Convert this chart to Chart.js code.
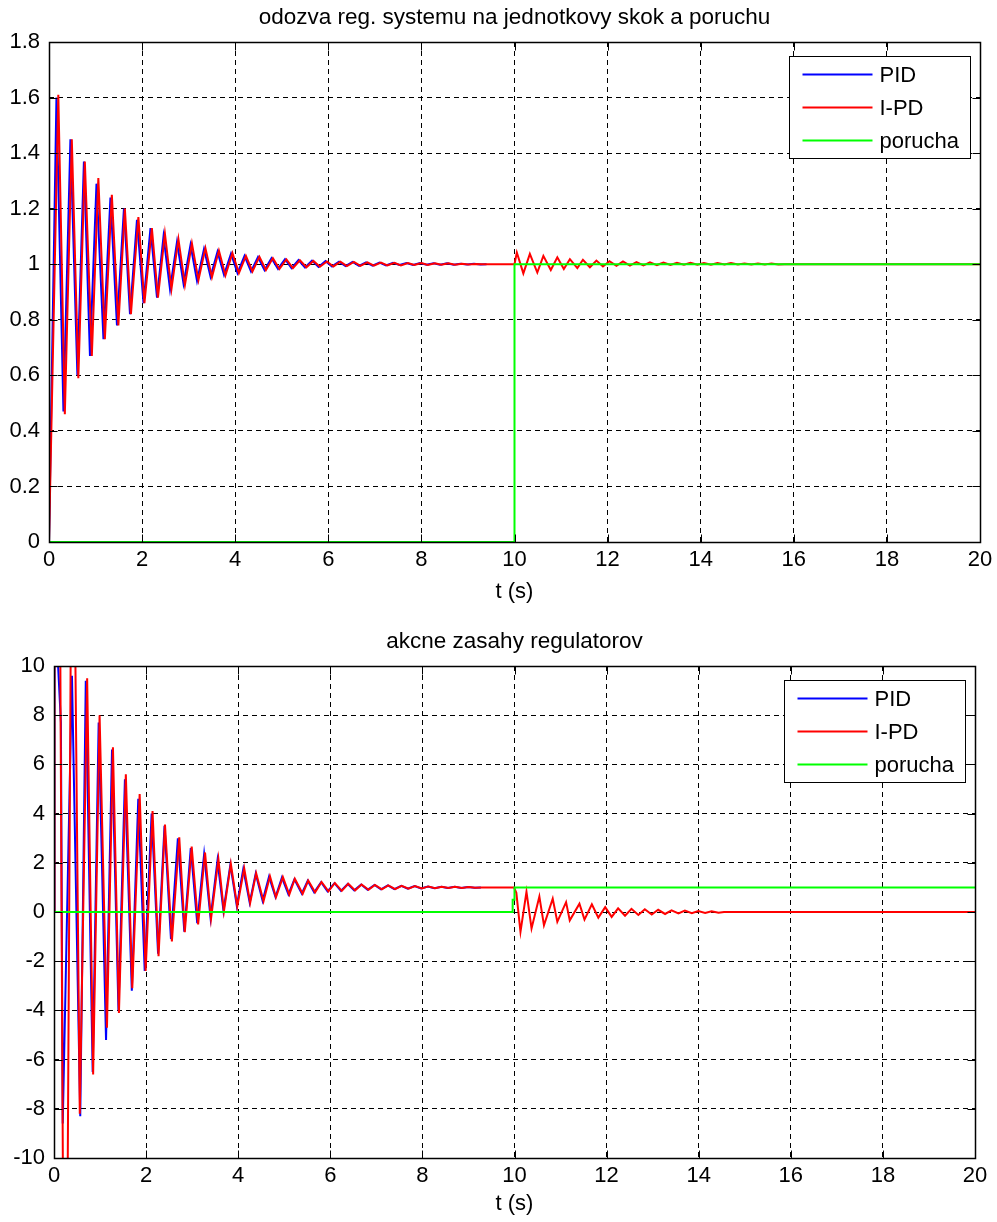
<!DOCTYPE html>
<html>
<head>
<meta charset="utf-8">
<script src="https://cdn.jsdelivr.net/npm/chart.js@4.4.0/dist/chart.umd.min.js"></script>
<style>
  html, body { margin: 0; padding: 0; background: #fff; }
  .box { position: relative; width: 997px; }
</style>
</head>
<body>
<div class="box" style="height:610px"><canvas id="top"></canvas></div>
<div class="box" style="height:612px"><canvas id="bottom"></canvas></div>
<script>
// odozva y(t) - PID
var tPidY = [0, 0.16, 0.31, 0.46, 0.61, 0.75, 0.88, 1.02, 1.17, 1.32,
  1.46, 1.61, 1.74, 1.89, 2.03, 2.18, 2.32, 2.46, 2.60, 2.75,
  2.89, 3.04, 3.18, 3.33, 3.47, 3.62, 3.76, 3.91, 4.05, 4.20,
  4.34, 4.49, 4.63, 4.78, 4.92, 5.07, 5.21, 5.36, 5.50, 5.65,
  5.79, 5.94, 6.08, 6.23, 6.37, 6.52, 6.66, 6.81, 6.95, 7.10,
  7.24, 7.39, 7.53, 7.68, 7.82, 7.97, 8.11, 8.26, 8.40, 8.55,
  8.69, 8.84, 8.98, 9.13, 9.27, 9.40];
var pidY = [0, 1.60, 0.47, 1.45, 0.60, 1.37, 0.67, 1.29, 0.73, 1.24,
  0.78, 1.20, 0.82, 1.16, 0.86, 1.13, 0.88, 1.10, 0.91, 1.08,
  0.93, 1.07, 0.94, 1.055, 0.955, 1.045, 0.962, 1.038, 0.968, 1.03,
  0.974, 1.026, 0.979, 1.022, 0.983, 1.018, 0.986, 1.015, 0.988, 1.013,
  0.99, 1.011, 0.992, 1.009, 0.993, 1.008, 0.994, 1.007, 0.995, 1.006,
  0.996, 1.005, 0.997, 1.004, 0.997, 1.004, 0.998, 1.003, 0.998, 1.003,
  0.998, 1.002, 0.999, 1.002, 0.999, 1.0];

// odozva y(t) - I-PD
var tIpdY = [0, 0.20, 0.34, 0.49, 0.63, 0.77, 0.92, 1.06, 1.20, 1.35,
  1.49, 1.63, 1.76, 1.92, 2.05, 2.21, 2.34, 2.49, 2.63, 2.78,
  2.92, 3.07, 3.21, 3.36, 3.50, 3.65, 3.79, 3.94, 4.08, 4.23,
  4.37, 4.52, 4.66, 4.81, 4.95, 5.10, 5.24, 5.39, 5.53, 5.68,
  5.82, 5.97, 6.11, 6.26, 6.40, 6.55, 6.69, 6.84, 6.98, 7.13,
  7.27, 7.42, 7.56, 7.71, 7.85, 8.00, 8.14, 8.29, 8.43, 8.58,
  8.72, 8.87, 9.01, 9.16, 9.30, 10.00, 10.05, 10.19, 10.33, 10.49,
  10.62, 10.78, 10.92, 11.06, 11.19, 11.35, 11.47, 11.62, 11.76, 11.90,
  12.04, 12.19, 12.33, 12.48, 12.62, 12.77, 12.91, 13.06, 13.20, 13.35,
  13.49, 13.64, 13.78, 13.93, 14.07, 14.22, 14.36, 14.51, 14.65, 14.80,
  14.94, 15.09, 15.23, 15.38, 15.52, 15.67, 15.80, 20];
var ipdY = [0, 1.61, 0.46, 1.45, 0.59, 1.37, 0.67, 1.31, 0.73, 1.25,
  0.78, 1.20, 0.82, 1.17, 0.86, 1.13, 0.88, 1.11, 0.91, 1.09,
  0.925, 1.075, 0.943, 1.058, 0.953, 1.049, 0.96, 1.04, 0.968, 1.03,
  0.974, 1.027, 0.979, 1.022, 0.983, 1.017, 0.986, 1.014, 0.989, 1.012,
  0.991, 1.01, 0.992, 1.009, 0.993, 1.008, 0.994, 1.007, 0.995, 1.006,
  0.996, 1.005, 0.996, 1.004, 0.997, 1.004, 0.997, 1.003, 0.998, 1.003,
  0.998, 1.002, 0.999, 1.001, 1.0, 1.0, 1.042, 0.967, 1.037, 0.97,
  1.03, 0.979, 1.025, 0.983, 1.018, 0.986, 1.016, 0.989, 1.013, 0.992,
  1.011, 0.994, 1.01, 0.995, 1.008, 0.996, 1.007, 0.997, 1.006, 0.997,
  1.005, 0.998, 1.005, 0.998, 1.004, 0.998, 1.004, 0.999, 1.004, 0.999,
  1.003, 0.999, 1.003, 0.999, 1.003, 0.999, 1.0, 1.0];

// porucha
var tDistY = [0, 10, 10, 20];
var distY = [0, 0, 1, 1];

// akcne zasahy u(t) - PID
var tPidU = [0, 0.01, 0.15, 0.19, 0.39, 0.57, 0.69, 0.84, 0.97, 1.13,
  1.26, 1.40, 1.54, 1.69, 1.83, 1.97, 2.12, 2.26, 2.40, 2.54,
  2.69, 2.83, 2.97, 3.11, 3.26, 3.40, 3.55, 3.68, 3.83, 3.97,
  4.11, 4.25, 4.38, 4.53, 4.67, 4.81, 4.95, 5.09, 5.22, 5.38,
  5.51, 5.65, 5.80, 5.94, 6.09, 6.23, 6.38, 6.52, 6.67, 6.81,
  6.96, 7.10, 7.25, 7.39, 7.54, 7.68, 7.83, 7.97, 8.12, 8.26,
  8.41, 8.55, 8.70, 8.84, 8.99, 9.13, 9.27];
var pidU = [0, 13, 7.7, -8.6, 9.6, -8.3, 9.4, -6.5, 7.7, -5.2,
  6.6, -4.0, 5.4, -3.2, 4.6, -2.4, 4.0, -1.7, 3.5, -1.1,
  3.0, -0.8, 2.6, -0.45, 2.35, -0.25, 2.1, 0.05, 1.92, 0.25,
  1.75, 0.38, 1.56, 0.46, 1.44, 0.61, 1.4, 0.72, 1.33, 0.75,
  1.27, 0.8, 1.21, 0.84, 1.17, 0.86, 1.14, 0.88, 1.12, 0.9,
  1.1, 0.92, 1.08, 0.93, 1.06, 0.95, 1.05, 0.96, 1.04, 0.97,
  1.03, 0.975, 1.025, 0.98, 1.02, 0.985, 1.0];

// akcne zasahy u(t) - I-PD
var tIpdU = [0, 0.01, 0.13, 0.20, 0.29, 0.37, 0.45, 0.56, 0.72, 0.85,
  0.99, 1.15, 1.28, 1.41, 1.56, 1.70, 1.86, 1.99, 2.14, 2.27,
  2.41, 2.56, 2.72, 2.84, 2.99, 3.13, 3.28, 3.41, 3.57, 3.69,
  3.84, 3.98, 4.13, 4.26, 4.39, 4.55, 4.69, 4.82, 4.97, 5.11,
  5.23, 5.40, 5.52, 5.67, 5.81, 5.96, 6.10, 6.25, 6.39, 6.54,
  6.68, 6.83, 6.97, 7.12, 7.26, 7.41, 7.55, 7.70, 7.84, 7.99,
  8.13, 8.28, 8.42, 8.57, 8.71, 8.86, 9.00, 9.15, 9.29, 9.99,
  10.04, 10.13, 10.26, 10.37, 10.54, 10.64, 10.83, 10.93, 11.12, 11.20,
  11.41, 11.52, 11.68, 11.82, 11.97, 12.11, 12.25, 12.40, 12.54, 12.69,
  12.83, 12.98, 13.12, 13.27, 13.41, 13.56, 13.70, 13.85, 13.99, 14.14,
  14.28, 14.43, 14.55, 20];
var ipdU = [0, 13, 13, -13, -13, 13, 13, -8.2, 9.5, -6.6,
  8.0, -4.7, 6.7, -4.1, 5.6, -3.1, 4.8, -2.4, 4.1, -1.8,
  3.55, -1.2, 3.04, -0.82, 2.66, -0.5, 2.42, -0.28, 2.15, 0.03,
  1.96, 0.23, 1.78, 0.37, 1.58, 0.44, 1.45, 0.6, 1.42, 0.71,
  1.35, 0.74, 1.28, 0.8, 1.22, 0.84, 1.18, 0.86, 1.15, 0.88,
  1.12, 0.9, 1.1, 0.92, 1.08, 0.93, 1.06, 0.95, 1.05, 0.96,
  1.04, 0.97, 1.03, 0.975, 1.025, 0.98, 1.02, 0.985, 1.0, 1.0,
  0.78, -0.81, 0.82, -0.67, 0.63, -0.54, 0.54, -0.4, 0.4, -0.34,
  0.34, -0.31, 0.31, -0.23, 0.2, -0.2, 0.15, -0.15, 0.13, -0.12,
  0.11, -0.1, 0.09, -0.08, 0.07, -0.06, 0.06, -0.05, 0.04, -0.04,
  0.03, -0.03, 0, 0];

var tDistU = [0, 9.96, 9.96, 10.0, 10.0, 20];
var distU = [0, 0, 0.5, 0.5, 1, 1];

var xTicks = [0, 2, 4, 6, 8, 10, 12, 14, 16, 18, 20];
var seriesNames = ['PID', 'I-PD', 'porucha'];
var seriesColors = ['#0000ff', '#ff0000', '#00ff00'];

var FONT = '"Liberation Sans", Arial, sans-serif';

function pts(t, v) {
  return t.map(function(x, i) { return { x: x, y: v[i] }; });
}

// ram okolo grafu, ticky dovnutra, nadpis a legenda
var matlabLook = {
  id: 'matlabLook',
  afterDraw: function(chart, args, o) {
    var ctx = chart.ctx, a = chart.chartArea;
    var xs = chart.scales.x, ys = chart.scales.y;
    var L = Math.round(a.left) + 0.5, R = Math.round(a.right) + 0.5;
    var T = Math.round(a.top) + 0.5, B = Math.round(a.bottom) + 0.5;
    ctx.save();
    ctx.strokeStyle = '#000';
    ctx.lineWidth = 1.5;
    ctx.strokeRect(L, T, R - L, B - T);
    ctx.lineWidth = 1;
    ctx.beginPath();
    xs.ticks.forEach(function(t) {
      var px = Math.round(xs.getPixelForValue(t.value)) + 0.5;
      ctx.moveTo(px, B); ctx.lineTo(px, B - 8);
      ctx.moveTo(px, T); ctx.lineTo(px, T + 8);
    });
    ys.ticks.forEach(function(t) {
      var py = Math.round(ys.getPixelForValue(t.value)) + 0.5;
      ctx.moveTo(L, py); ctx.lineTo(L + 8, py);
      ctx.moveTo(R, py); ctx.lineTo(R - 8, py);
    });
    ctx.stroke();

    // nadpis
    ctx.fillStyle = '#000';
    ctx.font = '22.5px ' + FONT;
    ctx.textAlign = 'center';
    ctx.textBaseline = 'middle';
    ctx.fillText(o.title, (a.left + a.right) / 2, o.titleY);

    // legenda
    var bw = 181, bh = 102;
    var bx = Math.round(a.right - 10 - bw) + 0.5, by = Math.round(a.top + 14) + 0.5;
    ctx.fillStyle = '#fff';
    ctx.fillRect(bx, by, bw, bh);
    ctx.strokeStyle = '#000';
    ctx.lineWidth = 1;
    ctx.strokeRect(bx, by, bw, bh);
    ctx.textAlign = 'left';
    ctx.font = '22px ' + FONT;
    for (var i = 0; i < seriesNames.length; i++) {
      var ly = by + 18 + i * 33;
      ctx.strokeStyle = seriesColors[i];
      ctx.lineWidth = 2;
      ctx.beginPath();
      ctx.moveTo(bx + 13, ly);
      ctx.lineTo(bx + 83, ly);
      ctx.stroke();
      ctx.fillStyle = '#000';
      ctx.fillText(seriesNames[i], bx + 90, ly + 1);
    }
    ctx.restore();
  }
};

function makeChart(id, data, yMin, yMax, yStep, opts) {
  var ds = [
    { label: seriesNames[0], data: data[0], borderColor: seriesColors[0], order: 2 },
    { label: seriesNames[1], data: data[1], borderColor: seriesColors[1], order: 1 },
    { label: seriesNames[2], data: data[2], borderColor: seriesColors[2], order: 0 }
  ];
  ds.forEach(function(d) {
    d.borderWidth = 2;
    d.pointRadius = 0;
    d.tension = 0;
    d.fill = false;
  });
  return new Chart(document.getElementById(id), {
    type: 'line',
    data: { datasets: ds },
    plugins: [matlabLook],
    options: {
      responsive: true,
      maintainAspectRatio: false,
      animation: false,
      layout: { padding: { top: opts.padTop, right: opts.padRight, left: 0, bottom: 0 } },
      plugins: {
        legend: { display: false },
        tooltip: { enabled: false },
        matlabLook: { title: opts.title, titleY: opts.titleY }
      },
      scales: {
        x: {
          type: 'linear',
          min: 0, max: 20,
          afterBuildTicks: function(s) { s.ticks = xTicks.map(function(v) { return { value: v }; }); },
          afterFit: function(s) { s.height = opts.xHeight; s.paddingLeft = 0; s.paddingRight = 0; },
          grid: { color: '#000', lineWidth: 1, drawTicks: false },
          border: { display: false, dash: [5, 4] },
          ticks: { color: '#000', padding: 5, font: { family: FONT, size: 22 } },
          title: { display: true, text: 't (s)', color: '#000', padding: { top: 0, bottom: 5 },
                   font: { family: FONT, size: 22 } }
        },
        y: {
          min: yMin, max: yMax,
          ticks: {
            stepSize: yStep, color: '#000', padding: 9,
            font: { family: FONT, size: 22 },
            callback: function(v) { return String(Math.round(v * 10) / 10); }
          },
          afterFit: function(s) { s.width = opts.yWidth; s.paddingTop = 0; s.paddingBottom = 0; },
          grid: { color: '#000', lineWidth: 1, drawTicks: false },
          border: { display: false, dash: [5, 4] }
        }
      }
    }
  });
}

makeChart('top',
  [pts(tPidY, pidY), pts(tIpdY, ipdY), pts(tDistY, distY)],
  0, 1.8, 0.2,
  { title: 'odozva reg. systemu na jednotkovy skok a poruchu', titleY: 18,
    padTop: 42, padRight: 17, xHeight: 68, yWidth: 49 });

makeChart('bottom',
  [pts(tPidU, pidU), pts(tIpdU, ipdU), pts(tDistU, distU)],
  -10, 10, 2,
  { title: 'akcne zasahy regulatorov', titleY: 32,
    padTop: 56, padRight: 22, xHeight: 64, yWidth: 54 });
</script>
</body>
</html>
